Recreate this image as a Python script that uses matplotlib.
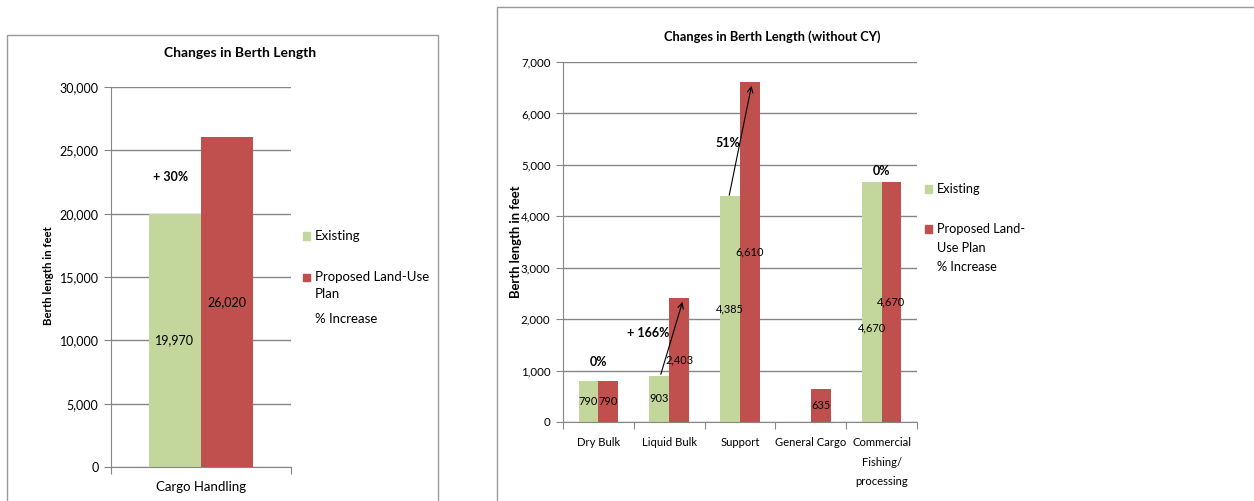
import numpy as np
import matplotlib.pyplot as plt
from matplotlib.patches import Rectangle

plt.rcParams['font.family'] = ['Lato', 'DejaVu Sans']

# data
left_cats = ['Cargo Handling']
left_existing = [19970]
left_proposed = [26020]

right_cats = ['Dry Bulk', 'Liquid Bulk', 'Support', 'General Cargo',
              'Commercial\nFishing/\nprocessing']
right_existing = [790, 903, 4385, 0, 4670]
right_proposed = [790, 2403, 6610, 635, 4670]

green = '#C3D69B'
red = '#C0504D'
grid_c = '#868686'

W, H = 1254, 501
fig = plt.figure(figsize=(W / 100, H / 100), dpi=100)


def px(x0, y0, w, h):
    return [x0 / W, (H - y0 - h) / H, w / W, h / H]


def fx(x):
    return x / W


def fy(y):
    return (H - y) / H


# panel frames
fig.patches.append(Rectangle((fx(7), -0.05), 431 / W, fy(35) + 0.05,
                             transform=fig.transFigure, fill=False,
                             edgecolor='#9a9a9a', lw=1))
fig.patches.append(Rectangle((fx(497), -0.05), 760 / W, fy(7) + 0.05,
                             transform=fig.transFigure, fill=False,
                             edgecolor='#9a9a9a', lw=1))


def style_axes(ax, ymax, step, n, size):
    ax.set_ylim(0, ymax)
    ax.set_xlim(-0.5, n - 0.5)
    ax.set_yticks(np.arange(0, ymax + 1, step))
    ax.yaxis.set_major_formatter(plt.FuncFormatter(lambda v, p: f'{int(v):,}'))
    ax.grid(axis='y', color=grid_c, lw=1)
    ax.set_axisbelow(True)
    for s in ['top', 'right']:
        ax.spines[s].set_visible(False)
    ax.spines['left'].set_color(grid_c)
    ax.spines['bottom'].set_color(grid_c)
    ax.tick_params(axis='y', length=5, color=grid_c, pad=4, labelsize=size)
    ax.set_xticks(np.arange(-0.5, n, 1.0))
    ax.set_xticklabels([])
    ax.tick_params(axis='x', which='major', length=5, color=grid_c)
    ax.set_xticks(np.arange(n), minor=True)
    ax.tick_params(axis='x', which='minor', length=0)


def legend_rows(x, rows, size):
    # rows: (y, colour or None, text)
    for y, c, txt in rows:
        if c:
            fig.patches.append(Rectangle((fx(x), fy(y + 3.5)), 7 / W, 7 / H,
                                         transform=fig.transFigure, color=c))
        fig.text(fx(x + 12), fy(y), txt, ha='left', va='center', fontsize=size)


# left chart
axl = fig.add_axes(px(111, 87, 180, 380))
style_axes(axl, 30000, 5000, 1, 9)
xl = np.arange(len(left_cats))
bw = 0.29
axl.bar(xl - bw / 2, left_existing, bw, color=green)
axl.bar(xl + bw / 2, left_proposed, bw, color=red)
axl.set_xticklabels(left_cats, minor=True, fontsize=9.5)
axl.tick_params(axis='x', which='minor', pad=10)
for x, v in zip(xl, left_existing):
    axl.text(x - bw / 2, v / 2, f'{v:,}', ha='center', va='center', fontsize=9)
for x, v in zip(xl, left_proposed):
    axl.text(x + bw / 2, v / 2, f'{v:,}', ha='center', va='center', fontsize=9)
axl.text(-0.17, 22900, '+ 30%', ha='center', va='center', fontsize=9, fontweight='bold')
fig.text(fx(240), fy(53), 'Changes in Berth Length', ha='center', va='center',
         fontsize=10, fontweight='bold')
fig.text(fx(48), fy(276), 'Berth length in feet', rotation=90,
         ha='center', va='center', fontsize=8.2, fontweight='bold')
legend_rows(303, [(236, green, 'Existing'),
                  (277, red, 'Proposed Land-Use'),
                  (294, None, 'Plan'),
                  (319, None, '% Increase')], 9.5)

# right chart
axr = fig.add_axes(px(563, 62, 354, 360))
style_axes(axr, 7000, 1000, len(right_cats), 8.3)
xr = np.arange(len(right_cats))
bw = 0.28
axr.bar(xr - bw / 2, right_existing, bw, color=green)
axr.bar(xr + bw / 2, right_proposed, bw, color=red)
axr.set_xticklabels(right_cats, minor=True, linespacing=1.95, va='top', fontsize=8.1)
axr.tick_params(axis='x', which='minor', pad=11)
for x, e, p in zip(xr, right_existing, right_proposed):
    # pull the green label down when both labels sit at the same height
    ey = e / 2 - 500 if abs(e - p) < 200 and e > 2000 else e / 2
    if e:
        axr.text(x - bw / 2, ey, f'{e:,}', ha='center', va='center', fontsize=7.9)
    axr.text(x + bw / 2, p / 2, f'{p:,}', ha='center', va='center', fontsize=7.9)

pct_kw = dict(ha='center', va='center', fontsize=9, fontweight='bold')
axr.text(0, 1170, '0%', **pct_kw)
axr.text(0.7, 1730, '+ 166%', **pct_kw)
axr.text(1.83, 5425, '51%', **pct_kw)
axr.text(4, 4880, '0%', **pct_kw)
axr.annotate('', xy=(1.2, 2390), xytext=(0.87, 875),
             arrowprops=dict(arrowstyle='->', color='black', lw=0.8))
axr.annotate('', xy=(2.17, 6590), xytext=(1.84, 4355),
             arrowprops=dict(arrowstyle='->', color='black', lw=0.8))
fig.text(fx(772), fy(37), 'Changes in Berth Length (without CY)', ha='center',
         va='center', fontsize=9.3, fontweight='bold')
fig.text(fx(516), fy(242), 'Berth length in feet', rotation=90,
         ha='center', va='center', fontsize=9.4, fontweight='bold')
legend_rows(925, [(189, green, 'Existing'),
                  (229, red, 'Proposed Land-'),
                  (248, None, 'Use Plan'),
                  (267, None, '% Increase')], 9.2)

fig.savefig('out.png', dpi=100)
